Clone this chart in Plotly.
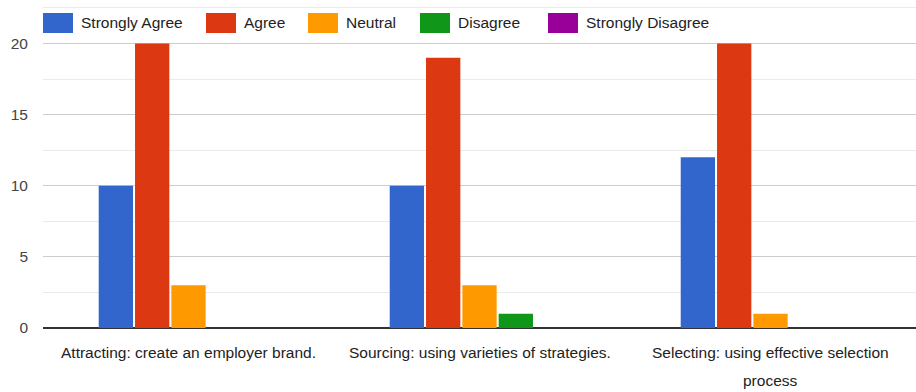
import plotly.graph_objects as go

# Survey responses per recruitment practice
categories = [
    "Attracting: create an employer brand.",
    "Sourcing: using varieties of strategies.",
    "Selecting: using effective selection<br>process",
]
series_names = ["Strongly Agree", "Agree", "Neutral", "Disagree", "Strongly Disagree"]
strongly_agree = [10, 10, 12]
agree = [20, 19, 20]
neutral = [3, 3, 1]
disagree = [0, 1, 0]
strongly_disagree = [0, 0, 0]
y_ticks = [0, 5, 10, 15, 20]

series_values = [strongly_agree, agree, neutral, disagree, strongly_disagree]
colors = ["#3366cc", "#dc3912", "#ff9900", "#109618", "#990099"]

FONT = "Liberation Sans, Arial, sans-serif"
FS = 15.5
W, H = 916, 392
M_L, M_R, M_T, M_B = 43, 0, 0, 64
plot_w = W - M_L - M_R
plot_h = H - M_T - M_B

fig = go.Figure()
for name, vals, col in zip(series_names, series_values, colors):
    fig.add_trace(go.Bar(
        name=name,
        x=categories,
        y=vals,
        marker=dict(color=col, line=dict(width=0)),
        showlegend=False,
    ))

shapes = []
annotations = []

# Category labels under each group, one annotation per line for wider line spacing
line_offsets = [-24, -52]
for cat in categories:
    for i, line in enumerate(cat.split("<br>")):
        annotations.append(dict(
            text=line, xref="x", yref="y", x=cat, y=0,
            yshift=line_offsets[i], xanchor="center", yanchor="middle",
            showarrow=False,
            font=dict(family=FONT, size=FS, color="#222222"),
        ))

# Legend row drawn as swatches + labels along the top of the chart
legend_left_px = [43, 206, 308, 420, 548]
sw_w, sw_top, sw_bot = 30, 13, 33
for name, col, lx in zip(series_names, colors, legend_left_px):
    shapes.append(dict(
        type="rect", xref="paper", yref="paper",
        x0=(lx - M_L) / plot_w, x1=(lx + sw_w - M_L) / plot_w,
        y0=(plot_h - sw_bot) / plot_h, y1=(plot_h - sw_top) / plot_h,
        fillcolor=col, line=dict(width=0), layer="above",
    ))
    annotations.append(dict(
        text=name, xref="paper", yref="paper",
        x=(lx + sw_w + 6 - M_L) / plot_w, y=(plot_h - (sw_top + sw_bot) / 2) / plot_h,
        xanchor="left", yanchor="middle", showarrow=False,
        font=dict(family=FONT, size=FS, color="#222222"),
    ))

fig.update_layout(
    width=W, height=H,
    margin=dict(l=M_L, r=M_R, t=M_T, b=M_B, pad=0),
    paper_bgcolor="white", plot_bgcolor="white",
    barmode="group",
    bargap=0.376,
    bargroupgap=0.055,
    font=dict(family=FONT, size=FS, color="#222222"),
    shapes=shapes,
    annotations=annotations,
    showlegend=False,
    xaxis=dict(
        showgrid=False, showline=False, ticks="",
        showticklabels=False,
        fixedrange=True,
    ),
    yaxis=dict(
        range=[0, 23.06],
        tickvals=y_ticks,
        ticks="",
        ticklabelstandoff=14,
        tickfont=dict(family=FONT, size=FS, color="#444444"),
        showgrid=True, gridcolor="#cccccc", gridwidth=1,
        minor=dict(dtick=2.5, showgrid=True, gridcolor="#ebebeb", gridwidth=1),
        zeroline=True, zerolinecolor="#333333", zerolinewidth=2,
        showline=False,
    ),
)

fig.write_html("out.html")
